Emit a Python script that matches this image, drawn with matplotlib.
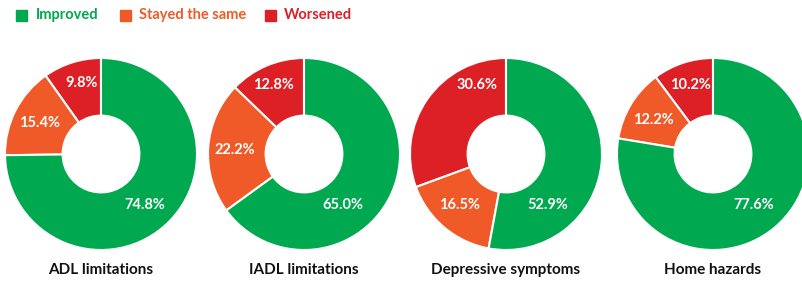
import matplotlib.pyplot as plt
from matplotlib.patches import Rectangle

categories = ['Worsened', 'Stayed the same', 'Improved']
titles = ['ADL limitations', 'IADL limitations', 'Depressive symptoms', 'Home hazards']
worsened = [9.8, 12.8, 30.6, 10.2]
stayed = [15.4, 22.2, 16.5, 12.2]
improved = [74.8, 65.0, 52.9, 77.6]

colors = {'Improved': '#00a84f', 'Stayed the same': '#f05a28', 'Worsened': '#dd1f26'}

# label placement inside each ring (axis units, outer radius = 1)
label_pos = [
    [(-0.20, 0.74), (-0.64, 0.32), (0.46, -0.53)],
    [(-0.32, 0.72), (-0.72, 0.04), (0.41, -0.53)],
    [(-0.30, 0.72), (-0.48, -0.53), (0.44, -0.53)],
    [(-0.24, 0.72), (-0.62, 0.35), (0.42, -0.53)],
]

plt.rcParams['font.family'] = ['Lato', 'DejaVu Sans']

W, H = 802, 282
fig = plt.figure(figsize=(W / 100, H / 100), dpi=100)

centers_x = [101, 304, 506, 713]
cy = 128
r = 96

for i, cx in enumerate(centers_x):
    ax = fig.add_axes([(cx - r) / W, (cy - r) / H, 2 * r / W, 2 * r / H])
    vals = [worsened[i], stayed[i], improved[i]]
    ax.pie(vals, colors=[colors[c] for c in categories], startangle=90,
           counterclock=True, radius=1.0,
           wedgeprops=dict(width=0.6, edgecolor='white', linewidth=1.5))
    for v, (lx, ly) in zip(vals, label_pos[i]):
        ax.text(lx, ly, f'{v:.1f}%', ha='center', va='center', color='white',
                fontsize=10.5, fontweight='bold')
    ax.set_xlim(-1, 1)
    ax.set_ylim(-1, 1)
    ax.set_aspect('equal')
    ax.axis('off')
    fig.text(cx / W, (H - 270) / H, titles[i], ha='center', va='center',
             fontsize=11, fontweight='bold', color='#111111')

# legend
legend_items = [('Improved', 16, 36), ('Stayed the same', 120, 139), ('Worsened', 265, 284)]
for name, sx, tx in legend_items:
    fig.patches.append(Rectangle((sx / W, (H - 21) / H), 11 / W, 11 / H,
                                 transform=fig.transFigure, color=colors[name]))
    fig.text(tx / W, (H - 15) / H, name, ha='left', va='center', fontsize=10.5,
             fontweight='bold', color=colors[name])

fig.savefig('out.png', dpi=100)
